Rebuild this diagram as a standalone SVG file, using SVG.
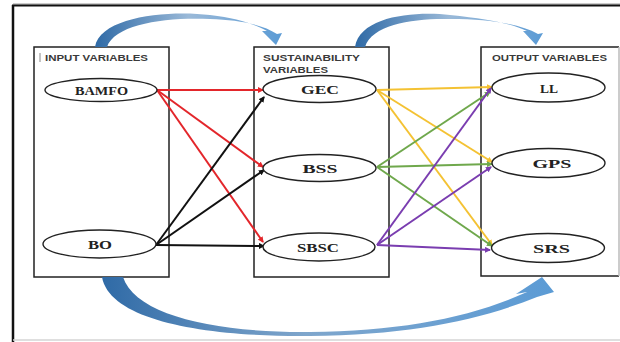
<svg xmlns="http://www.w3.org/2000/svg" width="620" height="342" viewBox="0 0 620 342">
<defs>
<style>
.box{fill:#fff;stroke:#222;stroke-width:1.5}
.ell{fill:#fff;stroke:#222;stroke-width:1.4}
.hd{font-family:"Liberation Sans",Arial,sans-serif;font-weight:bold;font-size:9px;fill:#3a3a3a}
.lb{font-family:"Liberation Serif","Times New Roman",serif;font-weight:bold;font-size:13px;fill:#222;text-anchor:middle}
.c{fill:none;stroke-width:2}
.r{stroke:#e3262b;marker-end:url(#mr)}
.k{stroke:#111;marker-end:url(#mk)}
.y{stroke:#f4c233;marker-end:url(#my)}
.g{stroke:#6fa84c;marker-end:url(#mg)}
.p{stroke:#7a3db0;marker-end:url(#mp)}
</style>
<marker id="mr" markerWidth="6" markerHeight="6" refX="5" refY="3" orient="auto" markerUnits="userSpaceOnUse"><path d="M0,0 L6,3 L0,6 Z" fill="#e3262b"/></marker>
<marker id="mk" markerWidth="6" markerHeight="6" refX="5" refY="3" orient="auto" markerUnits="userSpaceOnUse"><path d="M0,0 L6,3 L0,6 Z" fill="#111"/></marker>
<marker id="my" markerWidth="6" markerHeight="6" refX="5" refY="3" orient="auto" markerUnits="userSpaceOnUse"><path d="M0,0 L6,3 L0,6 Z" fill="#f4c233"/></marker>
<marker id="mg" markerWidth="6" markerHeight="6" refX="5" refY="3" orient="auto" markerUnits="userSpaceOnUse"><path d="M0,0 L6,3 L0,6 Z" fill="#6fa84c"/></marker>
<marker id="mp" markerWidth="6" markerHeight="6" refX="5" refY="3" orient="auto" markerUnits="userSpaceOnUse"><path d="M0,0 L6,3 L0,6 Z" fill="#7a3db0"/></marker>
<linearGradient id="bl" x1="0" y1="0" x2="1" y2="0">
<stop offset="0" stop-color="#2f6aa6"/><stop offset="0.5" stop-color="#9ab9d8"/><stop offset="1" stop-color="#5b9bd5"/>
</linearGradient>
<linearGradient id="bl2" x1="0" y1="0" x2="1" y2="0">
<stop offset="0" stop-color="#2f6aa6"/><stop offset="0.45" stop-color="#7fa6cc"/><stop offset="1" stop-color="#5b9bd5"/>
</linearGradient>
</defs>
<rect width="620" height="342" fill="#fff"/>
<g id="frame">
<line x1="13" y1="4" x2="620" y2="4" stroke="#999" stroke-width="1"/>
<line x1="12" y1="5.5" x2="620" y2="5.5" stroke="#111" stroke-width="2"/>
<line x1="13" y1="5" x2="13" y2="342" stroke="#111" stroke-width="2.5"/>
<line x1="13" y1="340" x2="620" y2="340" stroke="#d4d4d4" stroke-width="1.5"/>
</g>
<g id="input-variables">
<rect class="box" x="34" y="47" width="135" height="230"/>
<line x1="40" y1="53" x2="40" y2="62" stroke="#888" stroke-width="1"/>
<text class="hd" x="45" y="61" textLength="103" lengthAdjust="spacingAndGlyphs">INPUT VARIABLES</text>
</g>
<g id="sustainability-variables">
<rect class="box" x="254" y="47" width="135" height="230"/>
<text class="hd" x="263" y="61" textLength="97" lengthAdjust="spacingAndGlyphs">SUSTAINABILITY</text>
<text class="hd" x="263" y="73" textLength="65" lengthAdjust="spacingAndGlyphs">VARIABLES</text>
</g>
<g id="output-variables">
<path d="M619,47 H481 V276 H619" fill="#fff" stroke="#222" stroke-width="1.5"/>
<line x1="619" y1="47" x2="619" y2="276" stroke="#bbb" stroke-width="1.5"/>
<text class="hd" x="492" y="61" textLength="115" lengthAdjust="spacingAndGlyphs">OUTPUT VARIABLES</text>
</g>
<g id="connectors">
<path fill="url(#bl)" d="M95,47 C100,16 170,10 210,15 C238,18 256,25 267,31 L262,31 L276,45 L282,33 L277,34 C262,24 238,20 210,19 C165,17 115,24 107,47 Z"/>
<path fill="url(#bl)" d="M355,47 C360,16 415,11 450,15 C490,19 512,24 527,31 L523,31 L536,45 L543,33 L538,34 C520,24 490,19 450,19 C415,18 372,24 365,47 Z"/>
<path fill="url(#bl2)" d="M102,277 C110,322 210,337 310,336 C410,335 480,320 537,297 L554,292 L542,277 L516,294 L527,292 C470,318 400,331 310,332 C215,333 135,315 123,277 Z"/>
<line class="c r" x1="157" y1="90" x2="263" y2="90"/>
<line class="c r" x1="157" y1="90" x2="263" y2="167"/>
<line class="c r" x1="157" y1="90" x2="263" y2="242"/>
<line class="c k" x1="156" y1="245" x2="264" y2="97"/>
<line class="c k" x1="156" y1="245" x2="264" y2="170"/>
<line class="c k" x1="156" y1="245" x2="264" y2="246"/>
<line class="c y" x1="377" y1="90" x2="492" y2="87"/>
<line class="c y" x1="377" y1="90" x2="492" y2="162"/>
<line class="c y" x1="377" y1="90" x2="492" y2="245"/>
<line class="c g" x1="377" y1="167" x2="490" y2="92"/>
<line class="c g" x1="377" y1="167" x2="492" y2="164"/>
<line class="c g" x1="377" y1="167" x2="492" y2="246"/>
<line class="c p" x1="377" y1="245" x2="491" y2="88"/>
<line class="c p" x1="377" y1="245" x2="491" y2="167"/>
<line class="c p" x1="377" y1="245" x2="490" y2="250"/>
</g>
<g id="BAMFO"><ellipse class="ell" cx="101" cy="90" rx="56" ry="11.5"/><text class="lb" x="101.5" y="95" textLength="53" lengthAdjust="spacingAndGlyphs">BAMFO</text></g>
<g id="BO"><ellipse class="ell" cx="99.5" cy="244" rx="56.5" ry="14"/><text class="lb" x="100" y="249" textLength="24" lengthAdjust="spacingAndGlyphs">BO</text></g>
<g id="GEC"><ellipse class="ell" cx="319.5" cy="89" rx="56.5" ry="13.5"/><text class="lb" x="320" y="94" textLength="38" lengthAdjust="spacingAndGlyphs">GEC</text></g>
<g id="BSS"><ellipse class="ell" cx="319.5" cy="168" rx="56.5" ry="13.5"/><text class="lb" x="320" y="173" textLength="35" lengthAdjust="spacingAndGlyphs">BSS</text></g>
<g id="SBSC"><ellipse class="ell" cx="319" cy="247" rx="56" ry="14"/><text class="lb" x="318" y="252" textLength="42" lengthAdjust="spacingAndGlyphs">SBSC</text></g>
<g id="LL"><ellipse class="ell" cx="548.5" cy="87.5" rx="56.5" ry="14.5"/><text class="lb" x="549" y="93" textLength="18" lengthAdjust="spacingAndGlyphs">LL</text></g>
<g id="GPS"><ellipse class="ell" cx="548.5" cy="163" rx="56.5" ry="14.5"/><text class="lb" x="552" y="168" textLength="39" lengthAdjust="spacingAndGlyphs">GPS</text></g>
<g id="SRS"><ellipse class="ell" cx="548" cy="248" rx="56.5" ry="14.5"/><text class="lb" x="551.5" y="253" textLength="37" lengthAdjust="spacingAndGlyphs">SRS</text></g>
</svg>
